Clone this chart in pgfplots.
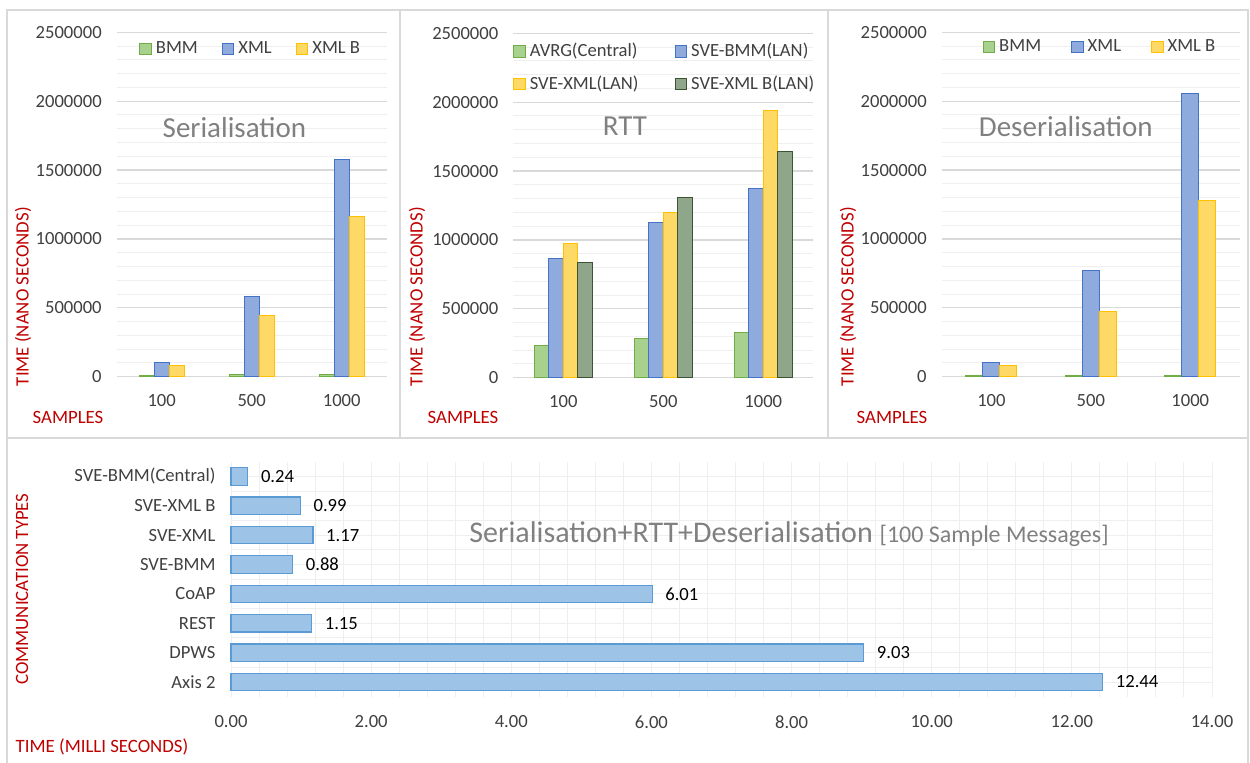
\documentclass[border=0pt]{standalone}
\usepackage{fontspec}
\setmainfont{Carlito}
\usepackage{pgfplots}
\pgfplotsset{compat=1.18}

\definecolor{cgreen}{HTML}{A9D18E}
\definecolor{cgreenD}{HTML}{70AD47}
\definecolor{cblue}{HTML}{8FAADC}
\definecolor{cblueD}{HTML}{4472C4}
\definecolor{cyel}{HTML}{FFD966}
\definecolor{cyelD}{HTML}{FFC000}
\definecolor{cdg}{HTML}{8FA68B}
\definecolor{cdgD}{HTML}{3B5534}
\definecolor{hbar}{HTML}{9DC3E6}
\definecolor{hbarD}{HTML}{5B9BD5}
\definecolor{labred}{HTML}{C00000}
\definecolor{ttl}{HTML}{808080}
\definecolor{frame}{HTML}{D9D9D9}
\definecolor{gridmaj}{HTML}{D9D9D9}
\definecolor{gridmin}{HTML}{EFEFEF}
\definecolor{ticktxt}{HTML}{404040}

\newcommand\fs[1]{\fontsize{#1}{1.2\dimexpr#1\relax}\selectfont}

\pgfplotsset{
  base/.style={
    scale only axis, anchor=south west, clip=false,
    axis line style={draw=none}, tick style={draw=none},
    major grid style={draw=gridmaj, line width=0.6bp},
    minor grid style={draw=gridmin, line width=0.5bp},
    tick label style={font=\fs{9.3bp}, text=ticktxt, /pgf/number format/assume math mode=true},
    legend style={draw=none, fill=none, font=\fs{9.3bp}, text=ticktxt, cells={anchor=west}},
  },
  top/.style={
    base, ybar=0pt, height=172.2bp,
    ymin=0, ymax=2500000, xmin=-0.5, xmax=2.5,
    xtick={0,1,2}, xticklabels={100,500,1000},
    ytick={0,500000,1000000,1500000,2000000,2500000},
    minor y tick num=4, ymajorgrids, yminorgrids,
    scaled y ticks=false,
    yticklabel style={/pgf/number format/fixed, /pgf/number format/1000 sep={}, xshift=-4bp},
    xticklabel style={yshift=-1bp},
    legend image code/.code={\draw[##1] (0bp,-2.9bp) rectangle (5.8bp,2.9bp);},
  },
  sG/.style={fill=cgreen, draw=cgreenD, line width=0.5bp},
  sB/.style={fill=cblue, draw=cblueD, line width=0.5bp},
  sY/.style={fill=cyel, draw=cyelD, line width=0.5bp},
  sD/.style={fill=cdg, draw=cdgD, line width=0.5bp},
}

\begin{document}
\begin{tikzpicture}
\useasboundingbox (0,0) rectangle (625bp,381.5bp);
\draw[frame, line width=0.8bp] (3.5bp,162.5bp) rectangle (200bp,376.5bp);
\draw[frame, line width=0.8bp] (200bp,162.5bp) rectangle (414bp,376.5bp);
\draw[frame, line width=0.8bp] (414bp,162.5bp) rectangle (624bp,376.5bp);
\draw[frame, line width=0.8bp] (3.5bp,-2bp) rectangle (624bp,162.5bp);

% Serialisation
\begin{axis}[top, at={(58.35bp,193.15bp)}, width=135bp, bar width=7.5bp,
  legend columns=3,
  legend style={at={(0.5,0.951)}, anchor=center,
    /tikz/every even column/.append style={column sep=10bp}}]
\addplot[sG] coordinates {(0,10000) (1,15000) (2,18000)};
\addplot[sB] coordinates {(0,100000) (1,581000) (2,1578000)};
\addplot[sY] coordinates {(0,80000) (1,441000) (2,1162000)};
\legend{BMM,XML,XML B}
\node[font=\fs{14.5bp}, text=ttl] at (rel axis cs:0.436,0.723) {Serialisation};
\end{axis}

% RTT
\begin{axis}[top, at={(256.65bp,192.65bp)}, width=150bp, bar width=7.2bp,
  legend columns=2,
  legend style={at={(0.508,0.9),}, anchor=center, row sep=4bp,
    /tikz/every even column/.append style={column sep=16bp}}]
\addplot[sG] coordinates {(0,237000) (1,286000) (2,329000)};
\addplot[sB] coordinates {(0,866000) (1,1125000) (2,1372000)};
\addplot[sY] coordinates {(0,975000) (1,1198000) (2,1943000)};
\addplot[sD] coordinates {(0,837000) (1,1309000) (2,1641000)};
\legend{AVRG(Central),SVE-BMM(LAN),SVE-XML(LAN),SVE-XML B(LAN)}
\node[font=\fs{14.5bp}, text=ttl] at (rel axis cs:0.372,0.731) {RTT};
\end{axis}

% Deserialisation
\begin{axis}[top, at={(470.85bp,193.15bp)}, width=149.15bp, bar width=8.5bp,
  legend columns=3,
  legend style={at={(0.534,0.957)}, anchor=center,
    /tikz/every even column/.append style={column sep=13bp}}]
\addplot[sG] coordinates {(0,6000) (1,6000) (2,6000)};
\addplot[sB] coordinates {(0,104000) (1,770000) (2,2057000)};
\addplot[sY] coordinates {(0,80000) (1,470000) (2,1278000)};
\legend{BMM,XML,XML B}
\node[font=\fs{14.5bp}, text=ttl] at (rel axis cs:0.416,0.726) {Deserialisation};
\end{axis}

% Serialisation+RTT+Deserialisation
\begin{axis}[base, at={(115.5bp,33.15bp)}, width=490.5bp, height=117.5bp,
  xbar, bar width=8.7bp,
  xmin=0, xmax=14, ymin=-0.5, ymax=7.5,
  xtick={0,2,...,14}, minor x tick num=4,
  ytick={0,...,7},
  yticklabels={Axis 2,DPWS,REST,CoAP,SVE-BMM,SVE-XML,SVE-XML B,SVE-BMM(Central)},
  minor y tick num=1,
  xmajorgrids, xminorgrids, ymajorgrids, yminorgrids,
  major grid style={draw=gridmin, line width=0.5bp},
  xticklabel style={/pgf/number format/fixed, /pgf/number format/fixed zerofill,
    /pgf/number format/precision=2, yshift=-6bp},
  yticklabel style={xshift=0bp},
  point meta=x,
  nodes near coords={\pgfmathprintnumber[fixed,fixed zerofill,precision=2,assume math mode=true]{\pgfplotspointmeta}},
  nodes near coords style={font=\fs{9.3bp}, text=black, anchor=west, xshift=3bp}]
\addplot[fill=hbar, draw=hbarD, line width=0.6bp] coordinates
  {(12.44,0) (9.03,1) (1.15,2) (6.01,3) (0.88,4) (1.17,5) (0.99,6) (0.24,7)};
\node[font=\fs{15bp}, text=ttl, anchor=west, inner sep=0pt] at (rel axis cs:0.2426,0.69)
  {Serialisation+RTT+Deserialisation \fs{12bp}[100 Sample Messages]};
\end{axis}

% axis titles
\begin{scope}[every node/.style={font=\fs{9.4bp}, text=labred}]
\node[rotate=90] at (11.5bp,233.15bp) {TIME (NANO SECONDS)};
\node[rotate=90] at (208.5bp,233.15bp) {TIME (NANO SECONDS)};
\node[rotate=90] at (424bp,233.15bp) {TIME (NANO SECONDS)};
\node at (34bp,173bp) {SAMPLES};
\node at (231.5bp,173bp) {SAMPLES};
\node at (446bp,173bp) {SAMPLES};
\node[rotate=90] at (11bp,87bp) {COMMUNICATION TYPES};
\node at (51bp,8.15bp) {TIME (MILLI SECONDS)};
\end{scope}
\end{tikzpicture}
\end{document}
